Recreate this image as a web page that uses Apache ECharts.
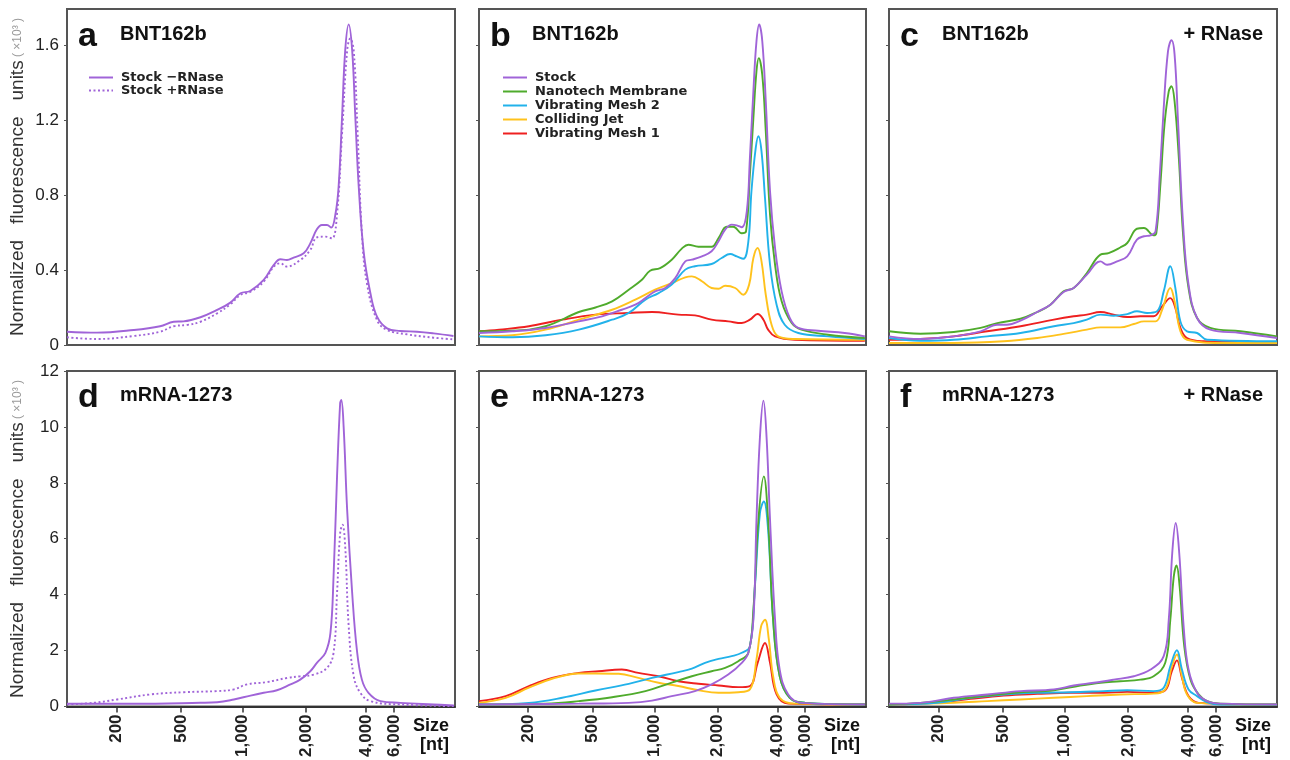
<!DOCTYPE html>
<html><head><meta charset="utf-8">
<script src="https://cdn.jsdelivr.net/npm/echarts@6/dist/echarts.min.js"></script>
<style>html,body{margin:0;padding:0;background:#fff}#c{width:1290px;height:760px}</style>
</head><body><div id="c"></div>
<script>
// ---- axis definitions (x = migration position, 0..100 across the plot; ladder sizes mark positions) ----
const SIZE_LABELS = ['200', '500', '1,000', '2,000', '4,000', '6,000'];
const SIZE_TICKS = [12.7, 29.4, 45.3, 61.6, 77.1, 84.3];
const Y_TICKS_TOP = [0, 0.4, 0.8, 1.2, 1.6];
const Y_TICKS_BOTTOM = [0, 2, 4, 6, 8, 10, 12];
const SERIES_NAMES = ['Stock', 'Nanotech Membrane', 'Vibrating Mesh 2', 'Colliding Jet', 'Vibrating Mesh 1'];
const PANEL_A_NAMES = ['Stock \u2212RNase', 'Stock +RNase'];

// ---- panel a: BNT162b stock -/+ RNase (x10^3) ----
const A_MINUS = [[0,0.071],[7.7,0.066],[17.2,0.08],[24,0.10],[27.5,0.124],[30,0.126],[34.4,0.148],[38.7,0.187],[42.1,0.226],[44.7,0.276],[47.2,0.288],[50.7,0.347],[53.3,0.427],[55,0.457],[56.7,0.453],[58.4,0.466],[61,0.489],[62.7,0.542],[64.4,0.617],[65.7,0.64],[67,0.64],[68.1,0.626],[69.2,0.70],[70,0.844],[70.9,1.22],[71.7,1.57],[72.6,1.71],[73.5,1.57],[74.3,1.22],[75.2,0.84],[76.5,0.49],[78.2,0.276],[79.9,0.151],[82.5,0.089],[85.9,0.075],[90.2,0.071],[94.5,0.062],[99.6,0.048]];
const A_PLUS = [[0,0.041],[7.7,0.032],[17.2,0.048],[24,0.071],[27.5,0.10],[31,0.107],[34.4,0.124],[38.7,0.169],[42.1,0.217],[44.7,0.267],[47.2,0.283],[50.7,0.338],[53.3,0.418],[55,0.436],[56.7,0.418],[60.1,0.453],[62.7,0.507],[64.4,0.574],[66.6,0.578],[68.3,0.569],[69.6,0.70],[70.9,1.13],[72.2,1.57],[73,1.635],[73.9,1.57],[74.9,1.13],[76,0.596],[77.3,0.329],[79.9,0.133],[82.5,0.08],[87.6,0.057],[94.5,0.039],[99.6,0.030]];

// ---- panel b: BNT162b after nebulization ----
const B_STOCK = [[0,0.064],[8.6,0.073],[17.2,0.091],[25.8,0.126],[31.8,0.153],[36.9,0.188],[40.4,0.215],[43.0,0.25],[45.5,0.286],[48.1,0.304],[50.7,0.357],[53.3,0.446],[55.0,0.455],[57.6,0.473],[60.1,0.50],[61.9,0.553],[63.6,0.615],[65.3,0.642],[66.6,0.638],[67.9,0.628],[69.2,0.713],[70.0,0.997],[70.9,1.353],[71.7,1.62],[72.4,1.709],[73.2,1.62],[74.1,1.30],[75.2,0.82],[76.5,0.517],[78.2,0.286],[80.3,0.144],[82.5,0.091],[87.6,0.076],[94.5,0.064],[99.7,0.046]];
const B_NANO = [[0,0.073],[8.6,0.076],[17.2,0.10],[25.8,0.176],[30.1,0.20],[34.4,0.233],[38.7,0.295],[42.1,0.348],[44.2,0.396],[46.8,0.41],[49.8,0.455],[52.4,0.514],[54.1,0.535],[56.7,0.524],[60.1,0.524],[61.9,0.57],[64.0,0.631],[65.7,0.631],[67.9,0.596],[69.0,0.606],[70.0,0.909],[70.9,1.21],[71.7,1.46],[72.3,1.53],[73.2,1.44],[74.1,1.14],[75.2,0.695],[76.5,0.428],[78.2,0.233],[80.8,0.117],[83.3,0.082],[90.2,0.055],[99.7,0.037]];
const B_VM2 = [[0,0.046],[8.6,0.041],[17.2,0.052],[25.8,0.082],[34.4,0.135],[38.7,0.171],[43.0,0.242],[46.4,0.277],[49.8,0.322],[53.3,0.402],[55.8,0.42],[60.1,0.432],[62.7,0.464],[64.9,0.485],[66.6,0.473],[68.3,0.46],[69.6,0.553],[70.4,0.82],[71.5,1.05],[72.2,1.113],[73.0,1.033],[73.9,0.784],[75.2,0.428],[76.9,0.215],[79.0,0.108],[82.5,0.064],[90.2,0.046],[99.7,0.032]];
const B_CJ = [[0,0.046],[8.6,0.052],[17.2,0.082],[25.8,0.135],[34.4,0.188],[40.4,0.242],[45.5,0.295],[49.8,0.33],[53.3,0.361],[55.0,0.366],[57.6,0.34],[60.1,0.304],[61.9,0.30],[63.6,0.316],[66.2,0.304],[68.3,0.268],[69.8,0.322],[70.9,0.464],[72.0,0.517],[73.0,0.446],[74.1,0.268],[75.6,0.108],[77.3,0.046],[81.6,0.032],[99.7,0.028]];
const B_VM1 = [[0,0.073],[5.2,0.082],[12.9,0.10],[21.5,0.135],[30.1,0.162],[38.7,0.171],[44.7,0.176],[51.5,0.162],[55.8,0.158],[60.1,0.135],[64.4,0.126],[67.9,0.117],[70.0,0.135],[72.0,0.165],[73.5,0.135],[74.7,0.082],[76.5,0.046],[81.6,0.028],[99.7,0.023]];

// ---- panel c: BNT162b + RNase ----
const C_STOCK = [[0,0.046],[8.1,0.032],[16.7,0.046],[23.6,0.073],[27.9,0.108],[30.4,0.108],[33.9,0.13],[38.2,0.176],[41.6,0.215],[45.0,0.283],[47.6,0.304],[51.0,0.375],[54.5,0.446],[56.2,0.428],[58.8,0.446],[61.4,0.473],[63.9,0.562],[65.7,0.58],[67.4,0.585],[68.7,0.606],[69.8,0.909],[70.8,1.264],[71.9,1.566],[72.8,1.625],[73.6,1.55],[74.5,1.19],[75.8,0.642],[77.2,0.322],[79.4,0.144],[82.8,0.082],[90.6,0.064],[100,0.037]];
const C_NANO = [[0,0.073],[8.1,0.06],[16.7,0.069],[23.6,0.091],[27.9,0.117],[33.9,0.14],[38.2,0.176],[41.6,0.215],[45.0,0.286],[47.6,0.304],[51.0,0.384],[54.5,0.482],[56.6,0.49],[59.6,0.52],[61.4,0.544],[63.9,0.62],[65.7,0.624],[68.2,0.585],[68.9,0.597],[70.0,0.873],[71.0,1.175],[72.1,1.353],[72.8,1.38],[73.6,1.30],[74.7,0.997],[75.8,0.588],[77.2,0.304],[79.4,0.144],[82.8,0.091],[90.6,0.073],[100,0.046]];
const C_VM2 = [[0,0.037],[8.1,0.023],[16.7,0.028],[25.3,0.046],[33.9,0.064],[42.5,0.10],[47.6,0.117],[51.0,0.135],[54.5,0.162],[57.9,0.156],[61.4,0.165],[63.9,0.18],[66.5,0.171],[69.1,0.18],[70.8,0.286],[72.5,0.42],[73.8,0.304],[75.1,0.126],[76.8,0.073],[79.4,0.064],[82.0,0.028],[100,0.02]];
const C_CJ = [[0,0.011],[16.7,0.011],[29.6,0.02],[38.2,0.037],[45.0,0.059],[51.0,0.082],[54.5,0.094],[59.6,0.094],[63.1,0.112],[65.7,0.126],[68.7,0.126],[70.4,0.188],[72.5,0.304],[73.6,0.233],[75.1,0.073],[76.8,0.028],[85.4,0.011],[100,0.011]];
const C_VM1 = [[0,0.028],[8.1,0.032],[16.7,0.046],[25.3,0.073],[33.9,0.10],[42.5,0.135],[47.6,0.153],[51.0,0.162],[54.5,0.176],[57.9,0.162],[61.4,0.149],[64.8,0.153],[68.2,0.153],[70.4,0.206],[72.5,0.25],[73.8,0.197],[75.1,0.091],[76.8,0.037],[81.1,0.02],[100,0.014]];

// ---- panel d: mRNA-1273 stock -/+ RNase ----
const D_MINUS = [[0,0.095],[17.2,0.095],[34.4,0.13],[38.7,0.15],[43.0,0.25],[47.3,0.39],[50.7,0.49],[54.1,0.58],[57.6,0.79],[60.1,0.96],[62.7,1.26],[64.4,1.56],[66.6,1.92],[67.9,2.63],[68.7,4.65],[69.6,8.23],[70.4,10.85],[70.7,10.96],[71.3,10.0],[72.2,7.04],[73.5,4.06],[74.7,2.04],[76.0,0.96],[77.7,0.49],[80.8,0.19],[85.9,0.13],[94.5,0.07],[99.7,0.036]];
const D_PLUS = [[0,0.07],[6.9,0.13],[12.9,0.25],[21.5,0.43],[30.1,0.51],[38.7,0.55],[43.0,0.61],[46.4,0.79],[51.5,0.87],[56.7,1.02],[60.1,1.08],[63.6,1.14],[67.0,1.38],[68.7,1.92],[69.6,4.06],[70.4,6.2],[71.0,6.5],[71.7,5.73],[72.6,2.87],[73.9,1.08],[75.6,0.49],[78.2,0.19],[85.9,0.07],[99.7,0.012]];

// ---- panel e: mRNA-1273 after nebulization ----
const E_STOCK = [[0,0.07],[25.8,0.1],[38.7,0.13],[44.7,0.21],[49.8,0.37],[55.8,0.55],[60.1,0.79],[64.4,1.14],[67.9,1.56],[69.6,1.92],[70.9,3.1],[71.7,6.68],[72.6,9.65],[73.5,10.94],[74.3,9.65],[75.2,6.68],[76.5,3.1],[77.7,1.32],[79.9,0.43],[83.3,0.13],[99.7,0.07]];
const E_NANO = [[0,0.07],[17.2,0.1],[25.8,0.19],[34.4,0.33],[43.0,0.55],[49.8,0.85],[55.0,1.08],[60.1,1.26],[63.6,1.38],[67.0,1.62],[69.6,1.92],[70.9,3.46],[72.2,6.68],[73.6,8.23],[74.7,6.68],[76.0,3.1],[77.7,1.08],[80.3,0.31],[84.2,0.13],[99.7,0.07]];
const E_VM2 = [[0,0.07],[12.9,0.13],[21.5,0.31],[30.1,0.57],[38.7,0.81],[44.7,1.02],[51.5,1.23],[55.0,1.35],[58.4,1.56],[61.9,1.70],[65.3,1.80],[67.9,1.92],[70.0,2.15],[71.3,4.3],[72.6,6.92],[73.6,7.33],[74.7,6.32],[76.0,3.1],[77.7,1.08],[80.3,0.31],[84.2,0.13],[99.7,0.07]];
const E_CJ = [[0,0.13],[6.9,0.31],[12.9,0.67],[18.9,0.99],[25.8,1.18],[30.1,1.18],[36.1,1.17],[41.2,1.02],[46.4,0.85],[51.5,0.73],[56.7,0.58],[61.9,0.49],[67.0,0.51],[70.0,0.61],[71.7,1.68],[72.9,2.87],[73.9,3.1],[74.9,2.39],[76.0,1.08],[77.7,0.31],[81.6,0.1],[99.7,0.07]];
const E_VM1 = [[0,0.19],[6.9,0.37],[12.9,0.73],[18.9,1.02],[25.8,1.2],[30.9,1.26],[36.9,1.32],[41.2,1.2],[46.4,1.08],[51.5,0.9],[56.7,0.81],[61.9,0.75],[67.0,0.69],[70.0,0.73],[72.0,1.56],[73.9,2.27],[75.2,1.56],[76.9,0.43],[79.9,0.1],[99.7,0.07]];

// ---- panel f: mRNA-1273 + RNase ----
const F_STOCK = [[0,0.1],[8.1,0.13],[16.7,0.31],[25.3,0.43],[33.9,0.55],[42.5,0.61],[47.6,0.75],[52.8,0.85],[57.9,0.96],[63.1,1.08],[67.4,1.32],[70.8,1.8],[72.1,3.1],[73.0,5.49],[73.9,6.56],[74.8,5.49],[76.0,2.75],[77.2,1.32],[79.4,0.49],[82.0,0.19],[85.4,0.1],[100,0.07]];
const F_NANO = [[0,0.07],[8.1,0.13],[16.7,0.25],[25.3,0.39],[33.9,0.51],[42.5,0.58],[49.3,0.75],[54.5,0.85],[59.6,0.9],[64.8,0.96],[68.2,1.08],[71.2,1.56],[72.5,3.1],[73.4,4.65],[74.1,5.04],[74.9,4.3],[76.1,2.15],[77.7,0.96],[79.8,0.43],[82.0,0.19],[85.4,0.1],[100,0.07]];
const F_VM2 = [[0,0.07],[12.4,0.13],[21.0,0.31],[29.6,0.43],[38.2,0.49],[46.8,0.51],[55.3,0.55],[61.4,0.58],[68.2,0.55],[70.8,0.67],[72.5,1.44],[74.2,2.01],[75.5,1.32],[77.2,0.61],[79.4,0.37],[82.0,0.15],[85.4,0.07],[100,0.06]];
const F_CJ = [[0,0.07],[16.7,0.13],[25.3,0.19],[33.9,0.25],[42.5,0.31],[51.0,0.37],[59.6,0.43],[68.2,0.46],[71.2,0.61],[72.9,1.44],[74.2,1.86],[75.5,1.08],[76.8,0.43],[79.4,0.13],[100,0.06]];
const F_VM1 = [[0,0.07],[12.4,0.13],[21.0,0.27],[29.6,0.39],[38.2,0.45],[46.8,0.49],[55.3,0.49],[61.4,0.52],[68.2,0.49],[71.2,0.58],[72.9,1.26],[74.2,1.65],[75.5,1.02],[77.2,0.37],[79.8,0.13],[100,0.06]];

// ---- styling ----
const FONT = 'Arial, "Liberation Sans", Helvetica, sans-serif';
const COLORS = ['#a064d8', '#4fab2c', '#22b2ea', '#ffc21c', '#ee2020'];
const GRIDS = [
  {left: 67, top: 9, width: 388, height: 336},
  {left: 479, top: 9, width: 387, height: 336},
  {left: 889, top: 9, width: 388, height: 336},
  {left: 67, top: 371, width: 388, height: 336},
  {left: 479, top: 371, width: 387, height: 336},
  {left: 889, top: 371, width: 388, height: 336}
];

function line(name, data, gi, color, dotted) {
  return {
    type: 'line', name: name, data: data, xAxisIndex: gi, yAxisIndex: gi,
    symbol: 'none', showSymbol: false, smooth: 0.4, silent: true, animation: false,
    lineStyle: {color: color, width: 1.9, type: dotted ? [2, 2.5] : 'solid'},
    itemStyle: {color: color}
  };
}
function group(gi, arrs) {
  const out = [];
  for (let k = arrs.length - 1; k >= 0; k--) out.push(line(SERIES_NAMES[k], arrs[k], gi, COLORS[k], false));
  return out;
}

const series = [
  line(PANEL_A_NAMES[0], A_MINUS, 0, COLORS[0], false),
  line(PANEL_A_NAMES[1], A_PLUS, 0, COLORS[0], true),
  ...group(1, [B_STOCK, B_NANO, B_VM2, B_CJ, B_VM1]),
  ...group(2, [C_STOCK, C_NANO, C_VM2, C_CJ, C_VM1]),
  line(PANEL_A_NAMES[0], D_MINUS, 3, COLORS[0], false),
  line(PANEL_A_NAMES[1], D_PLUS, 3, COLORS[0], true),
  ...group(4, [E_STOCK, E_NANO, E_VM2, E_CJ, E_VM1]),
  ...group(5, [F_STOCK, F_NANO, F_VM2, F_CJ, F_VM1])
];

const xAxis = GRIDS.map((g, i) => ({
  type: 'value', gridIndex: i, min: 0, max: 100,
  axisLine: {show: i >= 3, onZero: false, lineStyle: {color: '#333', width: 2}},
  axisTick: {show: i >= 3, customValues: SIZE_TICKS, length: 6, lineStyle: {color: '#333', width: 1.5}},
  axisLabel: {
    show: i >= 3, customValues: SIZE_TICKS, rotate: 90, margin: 8,
    fontSize: 17, fontWeight: 'bold', color: '#222', fontFamily: FONT,
    formatter: v => { const k = SIZE_TICKS.findIndex(t => Math.abs(t - v) < 0.01); return k >= 0 ? SIZE_LABELS[k] : ''; }
  },
  splitLine: {show: false}
}));

const yAxis = GRIDS.map((g, i) => {
  const top = i < 3;
  const ticks = top ? Y_TICKS_TOP : Y_TICKS_BOTTOM;
  return {
    type: 'value', gridIndex: i, min: 0, max: top ? 1.792 : 12,
    axisLine: {show: false},
    axisTick: {show: true, customValues: ticks, length: 3, lineStyle: {color: '#555'}},
    axisLabel: {show: i % 3 === 0, customValues: ticks, fontSize: 17, color: '#222', fontFamily: FONT, margin: 8},
    splitLine: {show: false}
  };
});

const legendText = {fontFamily: '"DejaVu Sans", sans-serif', fontWeight: 'bold', fontSize: 13, color: '#222', padding: [0, 0, 0, 3]};
const legendBase = {orient: 'vertical', itemWidth: 24, padding: 0, selectedMode: false,
  itemStyle: {opacity: 0}, textStyle: legendText};
const legend = [
  Object.assign({data: PANEL_A_NAMES, left: 88, top: 71, itemHeight: 13, itemGap: 0}, legendBase),
  Object.assign({data: SERIES_NAMES, left: 502, top: 71, itemHeight: 14, itemGap: 1}, legendBase)
];

function txt(x, y, text, font, align, extra) {
  return Object.assign({type: 'text', x: x, y: y, silent: true,
    style: {text: text, font: font, fill: '#111', align: align || 'left', verticalAlign: 'middle'}}, extra || {});
}
const LETTERS = ['a', 'b', 'c', 'd', 'e', 'f'];
const graphic = [];
GRIDS.forEach((g, i) => {
  const top = i < 3;
  const lb = top ? 47 : 408;
  const tb = top ? 41 : 402;
  graphic.push(txt(g.left + 11, lb - 10.5, LETTERS[i], 'bold 34px ' + FONT));
  graphic.push(txt(g.left + 53, tb - 6.2, top ? 'BNT162b' : 'mRNA-1273', 'bold 20px ' + FONT));
  if (i % 3 === 2) graphic.push(txt(g.left + g.width - 14, tb - 6.2, '+ RNase', 'bold 20px ' + FONT, 'right'));
  if (!top) {
    graphic.push(txt(g.left + g.width - 6, 726, 'Size', 'bold 18px ' + FONT, 'right'));
    graphic.push(txt(g.left + g.width - 6, 745, '[nt]', 'bold 18px ' + FONT, 'right'));
  }
  if (i % 3 === 0) {
    graphic.push({type: 'text', x: 18, y: g.top + g.height / 2, rotation: Math.PI / 2, silent: true,
      style: {text: '{m|Normalized   fluorescence   units} {s|( \u00d710\u00b3 )}', align: 'center', verticalAlign: 'middle',
        rich: {m: {font: '19px ' + FONT, fill: '#333'}, s: {font: '12px ' + FONT, fill: '#999'}}}});
  }
});

const chart = echarts.init(document.getElementById('c'), null, {renderer: 'canvas'});
chart.setOption({
  animation: false,
  backgroundColor: '#fff',
  grid: GRIDS.map(g => Object.assign({show: true, borderColor: '#555', borderWidth: 2, backgroundColor: 'transparent'}, g)),
  xAxis: xAxis,
  yAxis: yAxis,
  legend: legend,
  series: series,
  graphic: graphic
});
</script></body></html>
